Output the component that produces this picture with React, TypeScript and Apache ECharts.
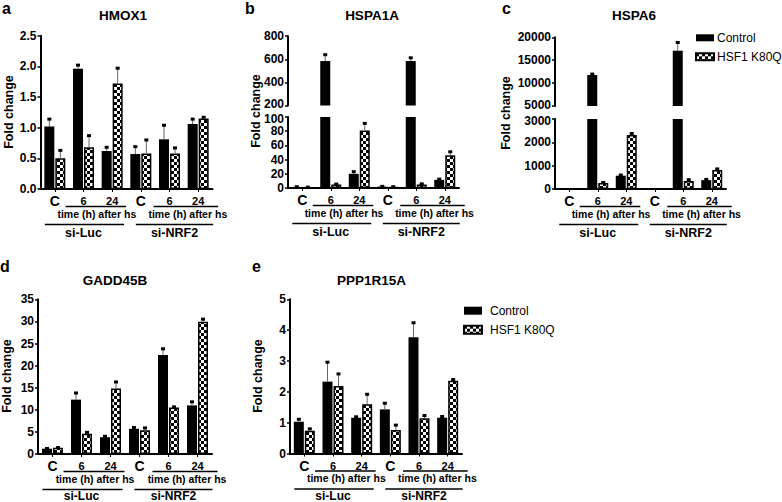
import React, { useEffect, useRef } from "react";
import * as echarts from "echarts";

const FONT = "'Liberation Sans', Arial, sans-serif";

// x categories (6 groups: si-Luc C/6/24, si-NRF2 C/6/24)
const groupLabels = ["C", "6", "24", "C", "6", "24"];
const seriesNames = ["Control", "HSF1 K80Q"];

// a: HMOX1
const hmox1Control = [1.02, 1.96, 0.62, 0.57, 0.81, 1.06];
const hmox1ControlErr = [0.12, 0.06, 0.06, 0.12, 0.23, 0.08];
const hmox1Hsf = [0.5, 0.68, 1.72, 0.58, 0.58, 1.15];
const hmox1HsfErr = [0.13, 0.19, 0.25, 0.22, 0.09, 0.02];

// b: HSPA1A
const hspa1aControl = [1.5, 585, 20, 2, 585, 11.5];
const hspa1aControlErr = [0.3, 55, 3, 0.3, 28, 1];
const hspa1aHsf = [1, 5, 81, 1.5, 5, 46];
const hspa1aHsfErr = [0.2, 0.5, 10, 0.3, 0.8, 5];

// c: HSPA6
const hspa6Control = [1, 11770, 570, 1, 17070, 380];
const hspa6ControlErr = [0, 200, 30, 0, 1800, 30];
const hspa6Hsf = [1, 260, 2310, 1, 340, 810];
const hspa6HsfErr = [0, 20, 70, 0, 60, 50];

// d: GADD45B
const gadd45bControl = [1.2, 12.3, 3.8, 5.7, 22.4, 11.0];
const gadd45bControlErr = [0.05, 1.5, 0.2, 0.3, 1.4, 0.8];
const gadd45bHsf = [1.4, 4.6, 14.8, 5.4, 10.5, 29.9];
const gadd45bHsfErr = [0.05, 0.3, 1.5, 0.5, 0.15, 0.6];

// e: PPP1R15A
const ppp1r15aControl = [1.03, 2.33, 1.16, 1.43, 3.77, 1.16];
const ppp1r15aControlErr = [0.08, 0.63, 0.03, 0.2, 0.47, 0.04];
const ppp1r15aHsf = [0.74, 2.19, 1.6, 0.76, 1.14, 2.36];
const ppp1r15aHsfErr = [0.06, 0.39, 0.32, 0.16, 0.09, 0.04];

type Seg = { top: number; height: number; min: number; max: number; interval: number };
type Panel = {
  letter: string; letterX: number; letterY: number;
  title: string; titleX: number; titleY: number;
  foldX: number; foldY: number; decimals: number;
  left: number; width: number; segs: Seg[];
  control: number[]; controlErr: number[]; hsf: number[]; hsfErr: number[];
};

const panels: Panel[] = [
  {
    letter: "a", letterX: 2, letterY: 8, title: "HMOX1", titleX: 123, titleY: 15, foldX: 8.5, foldY: 112, decimals: 1,
    left: 40.5, width: 172,
    segs: [{ top: 35.7, height: 153.3, min: 0, max: 2.5, interval: 0.5 }],
    control: hmox1Control, controlErr: hmox1ControlErr, hsf: hmox1Hsf, hsfErr: hmox1HsfErr,
  },
  {
    letter: "b", letterX: 245, letterY: 8, title: "HSPA1A", titleX: 372, titleY: 15, foldX: 256, foldY: 111, decimals: 0,
    left: 288, width: 171,
    segs: [
      { top: 36.2, height: 69.3, min: 200, max: 800, interval: 200 },
      { top: 117, height: 71, min: 0, max: 100, interval: 20 },
    ],
    control: hspa1aControl, controlErr: hspa1aControlErr, hsf: hspa1aHsf, hsfErr: hspa1aHsfErr,
  },
  {
    letter: "c", letterX: 502, letterY: 8, title: "HSPA6", titleX: 634, titleY: 15, foldX: 506, foldY: 113, decimals: 0,
    left: 555, width: 171,
    segs: [
      { top: 37.3, height: 68.7, min: 5000, max: 20000, interval: 5000 },
      { top: 119, height: 70, min: 0, max: 3000, interval: 1000 },
    ],
    control: hspa6Control, controlErr: hspa6ControlErr, hsf: hspa6Hsf, hsfErr: hspa6HsfErr,
  },
  {
    letter: "d", letterX: 0, letterY: 266, title: "GADD45B", titleX: 115, titleY: 280, foldX: 7, foldY: 376, decimals: 0,
    left: 38, width: 174,
    segs: [{ top: 299.3, height: 154.7, min: 0, max: 35, interval: 5 }],
    control: gadd45bControl, controlErr: gadd45bControlErr, hsf: gadd45bHsf, hsfErr: gadd45bHsfErr,
  },
  {
    letter: "e", letterX: 252, letterY: 266, title: "PPP1R15A", titleX: 371.5, titleY: 280, foldX: 258, foldY: 376, decimals: 0,
    left: 290, width: 172,
    segs: [{ top: 299.3, height: 154.2, min: 0, max: 5, interval: 1 }],
    control: ppp1r15aControl, controlErr: ppp1r15aControlErr, hsf: ppp1r15aHsf, hsfErr: ppp1r15aHsfErr,
  },
];

const BAR_W = 10;
const BAR_GAP = 1;

function makePattern() {
  const cv = document.createElement("canvas");
  cv.width = 6;
  cv.height = 6;
  const ctx = cv.getContext("2d")!;
  ctx.fillStyle = "#fff";
  ctx.fillRect(0, 0, 6, 6);
  ctx.fillStyle = "#000";
  ctx.fillRect(0, 0, 3, 3);
  ctx.fillRect(3, 3, 3, 3);
  return { image: cv, repeat: "repeat" } as any;
}

function buildOption() {
  const pattern = makePattern();
  const grid: any[] = [];
  const xAxis: any[] = [];
  const yAxis: any[] = [];
  const series: any[] = [];
  const elements: any[] = [];

  panels.forEach((p, pi) => {
    const bottomRow = pi >= 3;
    const broken = p.segs.length > 1;
    p.segs.forEach((seg, si) => {
      const gi = grid.length;
      const isBottom = si === p.segs.length - 1;
      const isUpper = seg.min > 0;
      grid.push({ left: p.left, top: seg.top, width: p.width, height: seg.height });
      xAxis.push({
        type: "category",
        gridIndex: gi,
        data: groupLabels,
        show: isBottom,
        axisLine: { show: true, lineStyle: { color: "#000", width: 2 } },
        axisTick: { show: true, alignWithLabel: true, length: 3, lineStyle: { color: "#000", width: 1 } },
        axisLabel: {
          interval: 0,
          margin: 4,
          formatter: (v: string) => (v === "C" ? "{c|C}" : "{n|" + v + "}"),
          rich: {
            c: { fontSize: 14, fontWeight: "bold", lineHeight: 16, color: "#000", fontFamily: FONT },
            n: { fontSize: 11, fontWeight: "bold", lineHeight: 16, color: "#000", fontFamily: FONT },
          },
        },
        splitLine: { show: false },
      });
      const tick = { fontSize: 12, fontWeight: "bold", color: "#000", fontFamily: FONT };
      yAxis.push({
        type: "value",
        gridIndex: gi,
        min: seg.min,
        max: seg.max,
        interval: seg.interval,
        axisLine: { show: true, lineStyle: { color: "#000", width: 2 } },
        axisTick: { show: true, length: 3, lineStyle: { color: "#000", width: 1.5 } },
        axisLabel: {
          ...tick,
          margin: 4,
          formatter: (v: number) => {
            const s = v.toFixed(p.decimals);
            if (broken && isUpper && v === seg.min) return "{lo|" + s + "}";
            if (broken && !isUpper && v === seg.max) return "{hi|" + s + "}";
            return "{t|" + s + "}";
          },
          rich: {
            t: { ...tick },
            lo: { ...tick, padding: [0, 0, 3, 0] },
            hi: { ...tick, padding: [3, 0, 0, 0] },
          },
        },
        splitLine: { show: false },
      });

      const vis = (v: number) => (isUpper && v <= seg.min ? null : v);
      series.push({
        type: "bar",
        name: seriesNames[0],
        xAxisIndex: gi,
        yAxisIndex: gi,
        data: p.control.map(vis),
        barWidth: BAR_W,
        barGap: (BAR_GAP / BAR_W) * 100 + "%",
        itemStyle: { color: "#000" },
        clip: true,
        silent: true,
      });
      series.push({
        type: "bar",
        name: seriesNames[1],
        xAxisIndex: gi,
        yAxisIndex: gi,
        data: p.hsf.map(vis),
        barWidth: BAR_W,
        barGap: (BAR_GAP / BAR_W) * 100 + "%",
        itemStyle: { color: pattern, borderColor: "#000", borderWidth: 1.5 },
        clip: true,
        silent: true,
      });

      const errData = (vals: number[], errs: number[]) =>
        vals
          .map((v, i) => [i, v, errs[i]])
          .filter(([, v, e]) => e > 0 && (isUpper ? v > seg.min : v + e <= seg.max));
      [
        { vals: p.control, errs: p.controlErr, off: -(BAR_W + BAR_GAP) / 2 },
        { vals: p.hsf, errs: p.hsfErr, off: (BAR_W + BAR_GAP) / 2 },
      ].forEach(({ vals, errs, off }) => {
        series.push({
          type: "custom",
          xAxisIndex: gi,
          yAxisIndex: gi,
          silent: true,
          z: 5,
          data: errData(vals, errs),
          renderItem: (_params: any, api: any) => {
            const cat = api.value(0);
            const v = api.value(1);
            const e = api.value(2);
            const base = api.coord([cat, v]);
            const tip = api.coord([cat, v + e]);
            const x = base[0] + off;
            return {
              type: "group",
              children: [
                { type: "line", shape: { x1: x, y1: base[1], x2: x, y2: tip[1] }, style: { stroke: "#666", lineWidth: 1 } },
                { type: "rect", shape: { x: x - 2, y: tip[1] - 1.5, width: 4, height: 3 }, style: { fill: "#000" } },
              ],
            };
          },
        });
      });
    });

    // annotations
    const last = p.segs[p.segs.length - 1];
    const axisY = last.top + last.height;
    const bw = p.width / 6;
    const c = (i: number) => p.left + bw * (i + 0.5);
    const ln = (x1: number, x2: number, y: number) => ({
      type: "line",
      silent: true,
      shape: { x1, y1: y, x2, y2: y },
      style: { stroke: "#000", lineWidth: 1.5 },
    });
    const tx = (text: string, x: number, y: number, size: number, weight = "bold", rotation = 0) => ({
      type: "text",
      silent: true,
      x,
      y,
      rotation,
      style: {
        text,
        fill: "#000",
        font: `${weight} ${size}px ${FONT}`,
        textAlign: "center",
        textVerticalAlign: "middle",
      },
    });
    const siY = axisY + (bottomRow ? 42 : 44);
    elements.push(ln(c(1) - 18, c(2) + 14, axisY + 17.5));
    elements.push(ln(c(4) - 16, c(5) + 20, axisY + 17.5));
    elements.push(ln(c(0) - 10, c(2) + 12, axisY + 35.5));
    elements.push(ln(c(3) - 5, c(5) + 15, axisY + 35.5));
    elements.push(tx("time (h) after hs", (c(1) + c(2)) / 2 - 1, axisY + 24.5, 10.5));
    elements.push(tx("time (h) after hs", (c(4) + c(5)) / 2 + 4, axisY + 24.5, 10.5));
    elements.push(tx("si-Luc", (c(0) + c(2)) / 2, siY, bottomRow ? 12 : 12.5));
    elements.push(tx("si-NRF2", (c(3) + c(5)) / 2 + 5, siY, bottomRow ? 12 : 12.5));
    elements.push(tx(p.title, p.titleX, p.titleY, 13.5));
    elements.push({
      type: "text",
      silent: true,
      x: p.letterX,
      y: p.letterY,
      style: { text: p.letter, fill: "#000", font: `bold 16px ${FONT}`, textAlign: "left", textVerticalAlign: "middle" },
    });
    elements.push(tx("Fold change", p.foldX, p.foldY, 12.5, "bold", Math.PI / 2));
  });

  const legendBase = {
    data: seriesNames,
    orient: "vertical",
    icon: "rect",
    itemWidth: 18,
    itemGap: 7,
    padding: 0,
    selectedMode: false,
  };

  return {
    animation: false,
    backgroundColor: "#fff",
    textStyle: { fontFamily: FONT },
    grid,
    xAxis,
    yAxis,
    series,
    legend: [
      {
        ...legendBase,
        left: 695,
        top: 31.8,
        itemHeight: 7,
        textStyle: { fontSize: 12, color: "#000", fontFamily: FONT, padding: [0, 0, 0, -2] },
      },
      {
        ...legendBase,
        left: 463,
        top: 304.7,
        itemHeight: 8,
        textStyle: { fontSize: 12, color: "#000", fontFamily: FONT, padding: [0, 0, 0, 3] },
      },
    ],
    graphic: { elements },
  };
}

export default function App() {
  const ref = useRef<HTMLDivElement>(null);
  useEffect(() => {
    if (!ref.current) return;
    const chart = echarts.init(ref.current, undefined, { renderer: "svg" });
    chart.setOption(buildOption() as any);
    return () => chart.dispose();
  }, []);
  return (
    <div
      ref={ref}
      style={{ position: "fixed", left: 0, top: 0, width: 782, height: 502, background: "#fff" }}
    />
  );
}
